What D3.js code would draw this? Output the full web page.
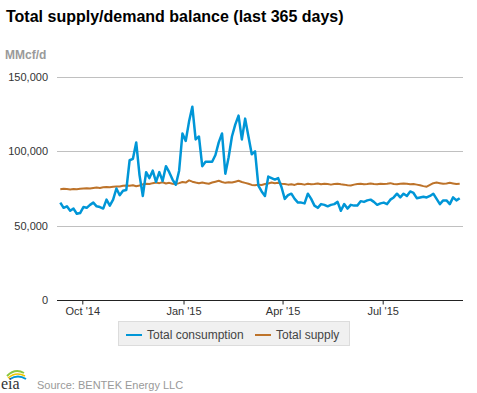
<!DOCTYPE html>
<html>
<head>
<meta charset="utf-8">
<script src="https://cdn.jsdelivr.net/npm/d3@7"></script>
<style>
  body { margin: 0; background: #fff; font-family: "Liberation Sans", Arial, sans-serif; }
  svg { display: block; }
</style>
</head>
<body>
<div id="chart"></div>
<script>
// readings every 3 days, starting 11 Sep 2014 (thousand MMcf/d)
const startDate = new Date(2014, 8, 11);
const stepDays = 3;

const consumption = [
  65.5, 62, 63, 60, 61.5, 58, 58.5, 62.5, 62, 64,
  65.5, 63, 62.5, 61.5, 67.5, 63.5, 67.5, 75, 70.5, 73.5,
  74, 94, 95, 106, 84, 70, 86, 82, 87, 79.5,
  86, 80, 90, 86, 81, 77.5, 87, 112, 107, 120,
  130, 108, 110, 90, 93, 93, 93, 97.5, 106, 112,
  85, 96, 110, 118, 124, 108, 122, 110, 98, 100,
  77, 73, 70, 83, 82, 81, 82, 76, 68, 70.5,
  71.5, 68, 65.5, 65.5, 65, 71.5, 68, 63.5, 62, 64.5,
  64, 63, 64, 64.5, 66, 60, 64.5, 61.5, 64, 63.5,
  63.5, 66.5, 66, 67, 67.5, 66, 64, 65, 65.5, 64.5,
  67.5, 69, 71.5, 69, 71.5, 70, 73, 72, 68.5, 69,
  69.5, 69, 70, 71.5, 68, 64.5, 67, 67, 64.5, 69,
  67, 68.5
];

const supply = [
  74.5, 74.8, 74.6, 74.4, 74.7, 74.5, 74.8, 75.0, 75.2, 75.0,
  75.4, 75.6, 75.4, 75.8, 76.0, 75.8, 76.2, 76.4, 76.3, 76.8,
  77.0, 76.8, 77.2, 76.5, 77.0, 77.8, 78.2, 78.0, 78.6, 79.0,
  78.6, 79.2, 78.4, 78.8, 78.2, 78.0, 78.6, 79.4, 79.0, 80.5,
  79.6, 79.0, 78.6, 79.0, 78.6, 78.2, 79.0, 79.6, 80.2, 79.4,
  78.8, 79.2, 79.0, 79.6, 80.2, 79.4, 78.8, 78.2, 77.4, 77.2,
  77.6, 77.4, 78.0, 78.4, 79.0, 78.6, 78.8, 78.2, 78.0, 77.6,
  77.8, 77.4, 78.2, 78.0, 77.6, 78.2, 77.8, 78.0, 78.4, 77.8,
  78.2, 78.0, 77.6, 78.0, 78.2, 77.8, 77.6, 77.2, 77.0, 77.6,
  78.0, 78.2, 77.8, 78.0, 78.4, 78.0, 77.8, 78.2, 78.0, 78.2,
  78.6, 78.0, 77.8, 78.2, 78.4, 78.2, 77.8, 78.0, 77.6, 77.2,
  76.6, 76.2, 77.4, 78.6, 79.0, 78.6, 78.2, 78.4, 78.8, 78.4,
  78.0, 78.2
];

const yTicks = [0, 50000, 100000, 150000];
const xTicks = [new Date(2014, 9, 1), new Date(2015, 0, 1), new Date(2015, 3, 1), new Date(2015, 6, 1)];
const seriesNames = ['Total consumption', 'Total supply'];
const seriesColors = ['#0096d7', '#bd732a'];
const seriesWidths = [2.5, 2];

const width = 477;
const height = 393;
const margin = { top: 77, right: 14, bottom: 93, left: 57 };

const toRows = values => values.map((v, i) => ({
  date: d3.timeDay.offset(startDate, i * stepDays),
  value: v * 1000
}));

const series = [toRows(consumption), toRows(supply)];

const svg = d3.select('#chart')
  .append('svg')
  .attr('width', width)
  .attr('height', height);

const x = d3.scaleTime()
  .domain([new Date(2014, 8, 8), new Date(2015, 8, 12)])
  .range([margin.left, width - margin.right]);

const y = d3.scaleLinear()
  .domain([0, 150000])
  .range([height - margin.bottom, margin.top]);

svg.append('text')
  .attr('x', 6)
  .attr('y', 22)
  .attr('font-size', 16)
  .attr('font-weight', 'bold')
  .attr('fill', '#000')
  .text('Total supply/demand balance (last 365 days)');

svg.append('text')
  .attr('x', 5)
  .attr('y', 59)
  .attr('font-size', 12)
  .attr('font-weight', 'bold')
  .attr('fill', '#9a9a9a')
  .text('MMcf/d');

// gridlines + y labels
const yAxis = svg.append('g');
yAxis.selectAll('line')
  .data(yTicks.filter(d => d > 0))
  .join('line')
  .attr('x1', margin.left)
  .attr('x2', width - margin.right)
  .attr('y1', d => Math.round(y(d)) + 0.5)
  .attr('y2', d => Math.round(y(d)) + 0.5)
  .attr('stroke', '#c0c0c0')
  .attr('stroke-width', 1);

yAxis.selectAll('text')
  .data(yTicks)
  .join('text')
  .attr('x', 48)
  .attr('y', d => y(d) + 4)
  .attr('text-anchor', 'end')
  .attr('font-size', 11)
  .attr('fill', '#333')
  .text(d => d3.format(',')(d));

// x axis
const xAxis = svg.append('g')
  .attr('transform', `translate(0,${Math.round(y(0)) + 0.5})`)
  .call(d3.axisBottom(x)
    .tickValues(xTicks)
    .tickFormat(d3.timeFormat("%b '%y"))
    .tickSize(4)
    .tickPadding(3));

xAxis.select('.domain')
  .attr('d', `M${margin.left},0H${width - margin.right}`)
  .attr('stroke', '#222');
xAxis.selectAll('.tick line').attr('stroke', '#222');
xAxis.selectAll('.tick text')
  .attr('font-family', '"Liberation Sans", Arial, sans-serif')
  .attr('font-size', 11)
  .attr('fill', '#333');

// lines (supply under consumption)
const line = d3.line()
  .x(d => x(d.date))
  .y(d => y(d.value));

svg.append('g')
  .selectAll('path')
  .data([1, 0])
  .join('path')
  .attr('fill', 'none')
  .attr('stroke', i => seriesColors[i])
  .attr('stroke-width', i => seriesWidths[i])
  .attr('stroke-linejoin', 'round')
  .attr('d', i => line(series[i]));

// legend
const legend = svg.append('g');
legend.append('rect')
  .attr('x', 118.5)
  .attr('y', 321.5)
  .attr('width', 231)
  .attr('height', 24)
  .attr('fill', '#f0f0f0')
  .attr('stroke', '#dcdcdc');

const legendX = [126, 255];
const item = legend.selectAll('g.item')
  .data(seriesNames)
  .join('g')
  .attr('class', 'item')
  .attr('transform', (d, i) => `translate(${legendX[i]},335)`);

item.append('line')
  .attr('x1', 0)
  .attr('x2', 16)
  .attr('stroke', (d, i) => seriesColors[i])
  .attr('stroke-width', 2);

item.append('text')
  .attr('x', 21)
  .attr('y', 4)
  .attr('font-size', 12)
  .attr('fill', '#444')
  .text(d => d);

// source + eia mark
const logo = svg.append('g').attr('transform', 'translate(0,367)');
logo.append('path')
  .attr('d', 'M7,9 Q15,1 24,6')
  .attr('fill', 'none')
  .attr('stroke', '#8cc63f')
  .attr('stroke-width', 2);
logo.append('path')
  .attr('d', 'M8,11 Q16,4 25,9')
  .attr('fill', 'none')
  .attr('stroke', '#f2c500')
  .attr('stroke-width', 1.5);
logo.append('path')
  .attr('d', 'M10,12 Q18,7 26,12')
  .attr('fill', 'none')
  .attr('stroke', '#0096d7')
  .attr('stroke-width', 2);
logo.append('text')
  .attr('x', 1)
  .attr('y', 22)
  .attr('font-family', '"Liberation Serif", serif')
  .attr('font-size', 16)
  .attr('fill', '#333')
  .text('eia');

svg.append('text')
  .attr('x', 37)
  .attr('y', 389)
  .attr('font-size', 11)
  .attr('fill', '#999')
  .text('Source: BENTEK Energy LLC');
</script>
</body>
</html>
